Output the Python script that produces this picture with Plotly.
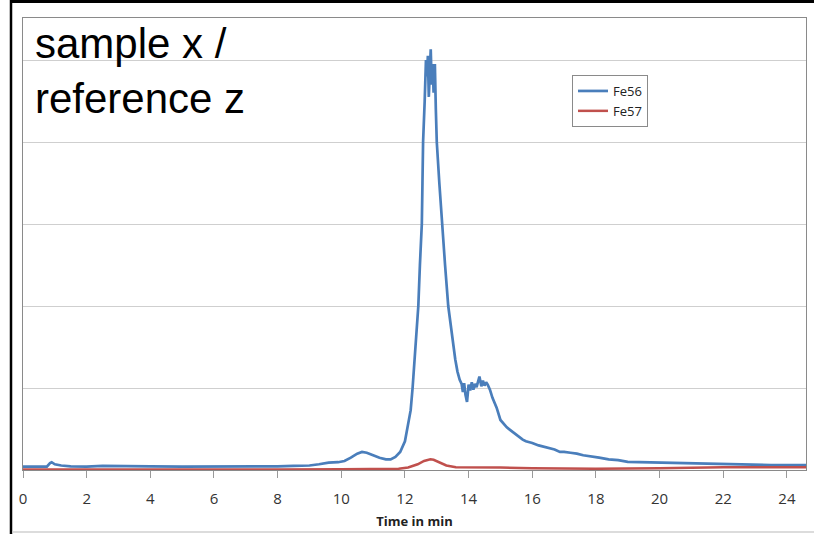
import plotly.graph_objects as go

# Fe56 trace (time in min, intensity in arbitrary units = gridline steps)
fe56_t = [0.0, 0.5, 0.75, 0.85, 0.9, 1.0, 1.2, 1.5, 2.0, 2.5, 3.0, 3.5, 4.0, 5.0, 6.0, 7.0, 8.0, 8.5, 9.0,
          9.3, 9.6, 9.9, 10.1, 10.3, 10.5, 10.65, 10.8, 11.0, 11.2, 11.4, 11.55, 11.7, 11.85, 12.0, 12.1,
          12.18, 12.24, 12.3, 12.36, 12.42, 12.47, 12.53, 12.55, 12.57, 12.62, 12.66, 12.69, 12.72, 12.75,
          12.78, 12.81, 12.84, 12.87, 12.9, 12.94, 12.97, 13.0, 13.08, 13.16, 13.26, 13.36, 13.44, 13.51,
          13.58, 13.65, 13.72, 13.78,
          13.82, 13.86, 13.9, 13.95, 14.0, 14.05, 14.1, 14.15, 14.2, 14.25, 14.3, 14.34, 14.4, 14.45, 14.5,
          14.55, 14.6, 14.67, 14.75, 14.88, 15.0, 15.1, 15.2, 15.3, 15.4, 15.5, 15.6, 15.7, 15.8, 16.0,
          16.2, 16.4, 16.55, 16.7, 16.87, 17.0, 17.2, 17.4, 17.6, 17.8, 18.1, 18.4, 18.7, 19.0, 19.5,
          20.0, 20.5, 21.0, 21.5, 22.0, 22.5, 23.0, 23.5, 24.0, 24.6]
fe56_v = [0.04, 0.04, 0.04, 0.085, 0.095, 0.07, 0.055, 0.045, 0.04, 0.05, 0.05, 0.045, 0.045, 0.04, 0.04, 0.04,
          0.045, 0.05, 0.055, 0.07, 0.09, 0.095, 0.11, 0.15, 0.2, 0.22, 0.21, 0.18, 0.15, 0.13, 0.13, 0.16,
          0.22, 0.35, 0.55,
          0.73, 1.0, 1.3, 1.65, 2.0, 2.5, 3.0, 3.5, 4.0, 4.5, 5.0, 4.8, 5.05, 4.55,
          4.95, 5.13, 4.7, 4.95, 4.6, 4.95, 4.4, 4.0, 3.5, 3.0, 2.5, 2.0, 1.75, 1.5,
          1.35, 1.2, 1.1, 1.05,
          0.95, 1.06, 0.92, 0.83, 1.04, 0.97, 1.07, 0.98, 1.05, 1.01, 1.08, 1.14, 1.02, 1.09, 1.03,
          1.07, 1.04, 0.98, 0.88, 0.76, 0.61, 0.56, 0.52, 0.49, 0.46, 0.43, 0.39, 0.37, 0.35, 0.33,
          0.3, 0.28, 0.27, 0.25, 0.22, 0.22, 0.21, 0.2, 0.18, 0.17, 0.15, 0.13, 0.12, 0.1, 0.095,
          0.09, 0.085, 0.08, 0.075, 0.07, 0.065, 0.065, 0.06, 0.06, 0.06]

# Fe57 trace
fe57_t = [0.0, 2.0, 4.0, 6.0, 8.0, 10.0, 11.0, 11.8, 12.1, 12.4, 12.6, 12.8, 12.9, 13.1, 13.3, 13.6,
          14.0, 15.0, 16.0, 18.0, 20.0, 21.0, 22.0, 24.6]
fe57_v = [0.005, 0.005, 0.0, 0.0, 0.005, 0.01, 0.01, 0.015, 0.03, 0.07, 0.11, 0.13, 0.125, 0.09, 0.055,
          0.035, 0.035, 0.03, 0.02, 0.015, 0.02, 0.03, 0.035, 0.035]

x_ticks = [0, 2, 4, 6, 8, 10, 12, 14, 16, 18, 20, 22, 24]

# layout geometry (pixels)
W, H = 814, 534
L, R, T, B = 23, 806, 18, 470

def px_x(p):
    return (p - L) / (R - L)

def px_y(p):
    return (B - p) / (B - T)

fig = go.Figure()
fig.add_trace(go.Scatter(x=fe56_t, y=fe56_v, mode="lines", name="Fe56",
                         line=dict(color="#4a7ebb", width=2.7)))
fig.add_trace(go.Scatter(x=fe57_t, y=fe57_v, mode="lines", name="Fe57",
                         line=dict(color="#c0504d", width=2.5)))

fig.update_layout(
    width=W, height=H,
    margin=dict(l=L, r=W - R, t=T, b=H - B),
    paper_bgcolor="white", plot_bgcolor="white",
    font=dict(family="Open Sans, Lato, sans-serif", color="#222"),
    showlegend=True,
    legend=dict(x=px_x(572), y=px_y(75), xanchor="left", yanchor="top",
                bordercolor="#8a8a8a", borderwidth=1, bgcolor="white",
                font=dict(size=13, color="#222"), itemwidth=30,
                tracegroupgap=0),
    xaxis=dict(range=[0, 24.6], tickvals=x_ticks, ticks="outside", ticklen=7,
               tickcolor="#9a9a9a", showgrid=False, zeroline=False,
               showline=True, linecolor="#8a8a8a", linewidth=1, mirror=True,
               tickfont=dict(size=15, color="#333"), ticklabelstandoff=8,
               title=dict(text="<b>Time in min</b>", font=dict(size=13, color="#222"), standoff=9)),
    yaxis=dict(range=[0, (B - T) / 82.0], tickvals=[1, 2, 3, 4, 5], showticklabels=False,
               showgrid=True, gridcolor="#cfcfcf", gridwidth=1, zeroline=False,
               showline=True, linecolor="#8a8a8a", linewidth=1, mirror=True, ticks=""),
)

fig.add_annotation(xref="paper", yref="paper", x=px_x(33), y=px_y(71),
                   xanchor="left", yanchor="middle", align="left", showarrow=False,
                   text="sample x /<br>reference z",
                   font=dict(family="Liberation Sans, Arial, sans-serif", size=42, color="black"))

# outer frame lines
fig.add_shape(type="line", xref="paper", yref="paper", x0=px_x(10), x1=px_x(816),
              y0=px_y(1.5), y1=px_y(1.5), line=dict(color="black", width=3))
fig.add_shape(type="line", xref="paper", yref="paper", x0=px_x(11), x1=px_x(11),
              y0=px_y(0), y1=px_y(534), line=dict(color="black", width=2.5))
fig.add_shape(type="line", xref="paper", yref="paper", x0=px_x(12), x1=px_x(814),
              y0=px_y(532), y1=px_y(532), line=dict(color="#d0d0d0", width=1.5))

fig.write_html("out.html", config={"displayModeBar": False},
               post_script="document.body.style.margin='0';document.body.style.overflow='hidden';")
